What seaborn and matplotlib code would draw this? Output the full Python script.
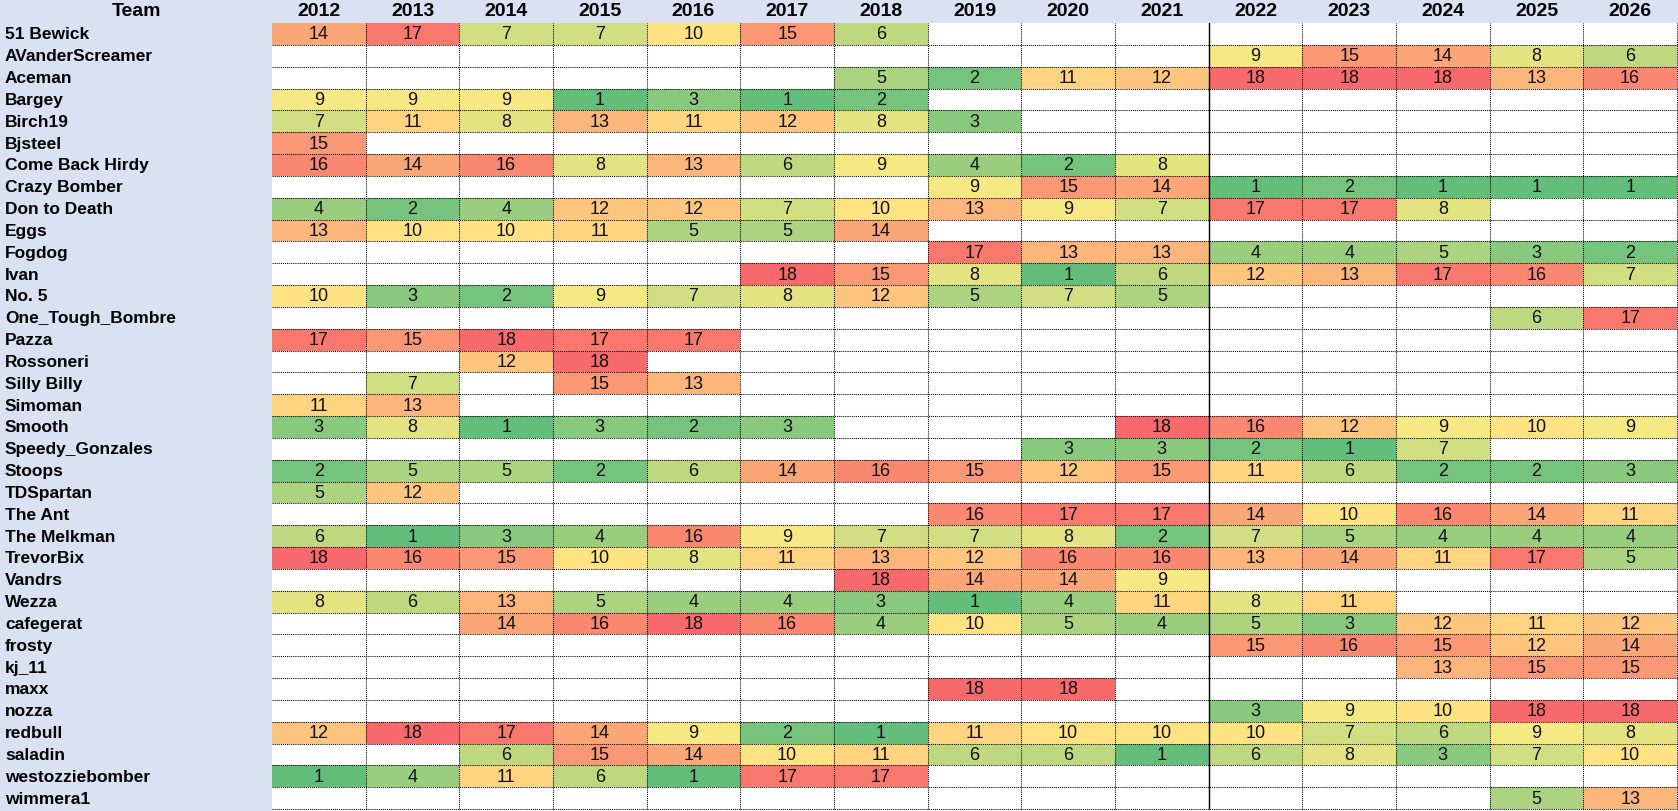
import numpy as np
import pandas as pd
import matplotlib
matplotlib.use("Agg")
import matplotlib.pyplot as plt
import seaborn as sns
from matplotlib.colors import LinearSegmentedColormap
from matplotlib.patches import Rectangle

plt.rcParams['font.family'] = ['Liberation Sans', 'DejaVu Sans']

# Final ladder positions per team per season (None = did not play)
years = [2012, 2013, 2014, 2015, 2016, 2017, 2018, 2019, 2020, 2021,
         2022, 2023, 2024, 2025, 2026]

teams = ["51 Bewick", "AVanderScreamer", "Aceman", "Bargey", "Birch19", "Bjsteel",
         "Come Back Hirdy", "Crazy Bomber", "Don to Death", "Eggs", "Fogdog", "Ivan",
         "No. 5", "One_Tough_Bombre", "Pazza", "Rossoneri", "Silly Billy", "Simoman",
         "Smooth", "Speedy_Gonzales", "Stoops", "TDSpartan", "The Ant", "The Melkman",
         "TrevorBix", "Vandrs", "Wezza", "cafegerat", "frosty", "kj_11", "maxx",
         "nozza", "redbull", "saladin", "westozziebomber", "wimmera1"]

N = None
ranks = [
    [14, 17, 7, 7, 10, 15, 6, N, N, N, N, N, N, N, N],
    [N, N, N, N, N, N, N, N, N, N, 9, 15, 14, 8, 6],
    [N, N, N, N, N, N, 5, 2, 11, 12, 18, 18, 18, 13, 16],
    [9, 9, 9, 1, 3, 1, 2, N, N, N, N, N, N, N, N],
    [7, 11, 8, 13, 11, 12, 8, 3, N, N, N, N, N, N, N],
    [15, N, N, N, N, N, N, N, N, N, N, N, N, N, N],
    [16, 14, 16, 8, 13, 6, 9, 4, 2, 8, N, N, N, N, N],
    [N, N, N, N, N, N, N, 9, 15, 14, 1, 2, 1, 1, 1],
    [4, 2, 4, 12, 12, 7, 10, 13, 9, 7, 17, 17, 8, N, N],
    [13, 10, 10, 11, 5, 5, 14, N, N, N, N, N, N, N, N],
    [N, N, N, N, N, N, N, 17, 13, 13, 4, 4, 5, 3, 2],
    [N, N, N, N, N, 18, 15, 8, 1, 6, 12, 13, 17, 16, 7],
    [10, 3, 2, 9, 7, 8, 12, 5, 7, 5, N, N, N, N, N],
    [N, N, N, N, N, N, N, N, N, N, N, N, N, 6, 17],
    [17, 15, 18, 17, 17, N, N, N, N, N, N, N, N, N, N],
    [N, N, 12, 18, N, N, N, N, N, N, N, N, N, N, N],
    [N, 7, N, 15, 13, N, N, N, N, N, N, N, N, N, N],
    [11, 13, N, N, N, N, N, N, N, N, N, N, N, N, N],
    [3, 8, 1, 3, 2, 3, N, N, N, 18, 16, 12, 9, 10, 9],
    [N, N, N, N, N, N, N, N, 3, 3, 2, 1, 7, N, N],
    [2, 5, 5, 2, 6, 14, 16, 15, 12, 15, 11, 6, 2, 2, 3],
    [5, 12, N, N, N, N, N, N, N, N, N, N, N, N, N],
    [N, N, N, N, N, N, N, 16, 17, 17, 14, 10, 16, 14, 11],
    [6, 1, 3, 4, 16, 9, 7, 7, 8, 2, 7, 5, 4, 4, 4],
    [18, 16, 15, 10, 8, 11, 13, 12, 16, 16, 13, 14, 11, 17, 5],
    [N, N, N, N, N, N, 18, 14, 14, 9, N, N, N, N, N],
    [8, 6, 13, 5, 4, 4, 3, 1, 4, 11, 8, 11, N, N, N],
    [N, N, 14, 16, 18, 16, 4, 10, 5, 4, 5, 3, 12, 11, 12],
    [N, N, N, N, N, N, N, N, N, N, 15, 16, 15, 12, 14],
    [N, N, N, N, N, N, N, N, N, N, N, N, 13, 15, 15],
    [N, N, N, N, N, N, N, 18, 18, N, N, N, N, N, N],
    [N, N, N, N, N, N, N, N, N, N, 3, 9, 10, 18, 18],
    [12, 18, 17, 14, 9, 2, 1, 11, 10, 10, 10, 7, 6, 9, 8],
    [N, N, 6, 15, 14, 10, 11, 6, 6, 1, 6, 8, 3, 7, 10],
    [1, 4, 11, 6, 1, 17, 17, N, N, N, N, N, N, N, N],
    [N, N, N, N, N, N, N, N, N, N, N, N, N, 5, 13],
]

df = pd.DataFrame(ranks, index=teams, columns=years, dtype=float)

# Excel style 3-colour scale: green -> yellow -> red
cmap = LinearSegmentedColormap.from_list("excel", ["#63BE7B", "#FFEB84", "#F8696B"])

W, H = 1678, 812
team_w = 272      # px width of team column
head_h = 24       # px height of header row
bottom = 2

fig = plt.figure(figsize=(W / 100, H / 100), dpi=100)
hdr_col = "#D9E1F2"
fig.patches.append(Rectangle((0, 1 - head_h / H), 1, head_h / H,
                             transform=fig.transFigure, color=hdr_col, zorder=-5))
fig.patches.append(Rectangle((0, 0), team_w / W, 1,
                             transform=fig.transFigure, color=hdr_col, zorder=-5))

ax = fig.add_axes([team_w / W, bottom / H, (W - team_w - 1) / W, (H - head_h - bottom) / H])
sns.heatmap(df, cmap=cmap, vmin=1, vmax=18, annot=True, fmt=".0f", cbar=False,
            xticklabels=False, yticklabels=False, ax=ax,
            annot_kws={"color": "#111111", "fontsize": 13})
ax.set_xlabel("")
ax.set_ylabel("")
ax.tick_params(length=0)

# dotted cell borders
dots = (0, (1, 1))
for i in range(1, len(teams) + 1):
    ax.axhline(i, color="black", lw=0.75, ls=dots, clip_on=False)
for j in range(1, len(years) + 1):
    ax.axvline(j, color="black", lw=0.75, ls=dots, clip_on=False)
ax.axvline(years.index(2022), color="black", lw=1.0)

col_px = (W - team_w - 1) / len(years)
row_px = (H - head_h - bottom) / len(teams)
team_span = team_w / col_px
head_y = -(head_h / row_px) / 2

ax.text(-team_span / 2, head_y, "Team", ha="center", va="center",
        fontsize=14, fontweight="bold", clip_on=False)
for j, y in enumerate(years):
    ax.text(j + 0.5, head_y, str(y), ha="center", va="center",
            fontsize=14, fontweight="bold", clip_on=False)
for i, t in enumerate(teams):
    ax.text(-team_span + 5 / col_px, i + 0.5, t, ha="left", va="center",
            fontsize=12.5, fontweight="bold", clip_on=False)

fig.savefig("out.png", dpi=100)
